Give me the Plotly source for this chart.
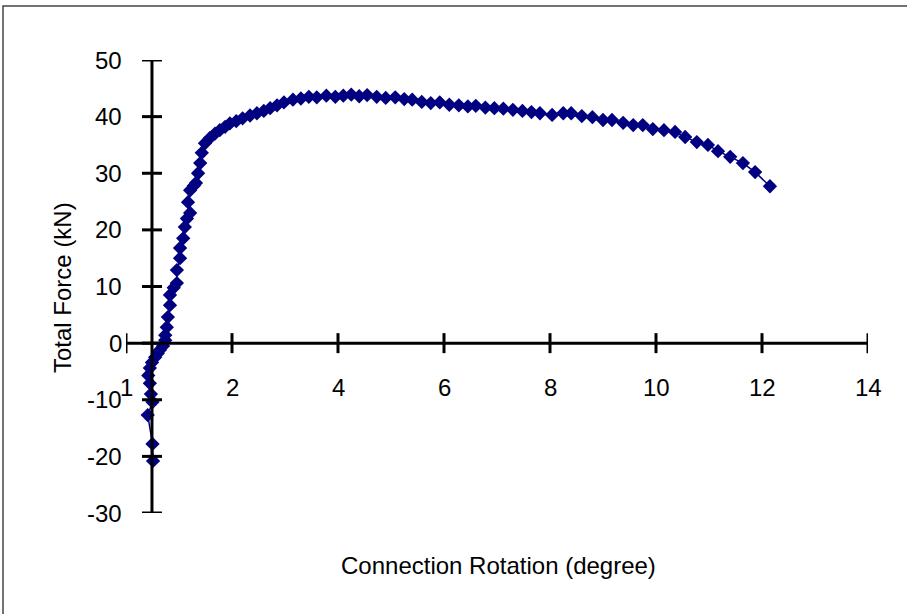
import plotly.graph_objects as go

# Data
rotation = [0.51, 0.50, 0.41, 0.50, 0.47, 0.45, 0.42, 0.45, 0.49, 0.55, 0.60, 0.64, 0.70, 0.74,
            0.74, 0.77, 0.79, 0.83, 0.83, 0.90, 0.96, 0.96, 1.02, 1.02, 1.08, 1.11, 1.15, 1.21,
            1.17, 1.21, 1.28, 1.32, 1.36, 1.40, 1.43, 1.49, 1.58, 1.68, 1.77, 1.87, 1.96, 2.08,
            2.20, 2.34, 2.47, 2.60, 2.72, 2.85, 2.98, 3.15, 3.30, 3.45, 3.60, 3.78, 3.95, 4.10,
            4.25, 4.40, 4.55, 4.73, 4.90, 5.08, 5.25, 5.40, 5.58, 5.75, 5.92, 6.10, 6.28, 6.45,
            6.60, 6.78, 6.95, 7.12, 7.30, 7.48, 7.65, 7.81, 8.04, 8.25, 8.40, 8.60, 8.80, 9.00,
            9.17, 9.38, 9.57, 9.75, 9.94, 10.15, 10.36, 10.55, 10.77, 10.98, 11.17, 11.40,
            11.64, 11.87, 12.15]
force = [-20.8, -17.8, -12.7, -10.4, -9.0, -7.1, -5.7, -4.4, -3.4, -2.5, -1.8, -1.2, -0.5, 0.5,
         1.4, 2.8, 4.6, 6.7, 8.5, 9.8, 10.6, 12.9, 15.0, 16.8, 18.5, 20.5, 22.0, 23.0,
         24.9, 27.0, 27.8, 28.3, 30.0, 31.8, 33.6, 35.3, 36.2, 37.0, 37.6, 38.2, 38.8, 39.2,
         39.7, 40.2, 40.6, 41.0, 41.5, 42.0, 42.5, 43.0, 43.2, 43.5, 43.4, 43.7, 43.5, 43.7,
         43.9, 43.6, 43.8, 43.5, 43.3, 43.4, 43.1, 43.0, 42.6, 42.4, 42.5, 42.1, 42.0, 41.8,
         41.9, 41.6, 41.5, 41.4, 41.2, 41.0, 40.8, 40.6, 40.3, 40.6, 40.6, 40.1, 39.9, 39.4,
         39.4, 38.9, 38.5, 38.5, 37.8, 37.6, 37.3, 36.4, 35.5, 35.0, 33.9, 32.9,
         31.8, 30.2, 27.7]

x_ticks = [0, 2, 4, 6, 8, 10, 12, 14]
x_tick_labels = ["1", "2", "4", "6", "8", "10", "12", "14"]
y_ticks = [-30, -20, -10, 0, 10, 20, 30, 40, 50]
y_tick_labels = ["-30", "-20", "-10", "0", "10", "20", "30", "40", "50"]
x_range = [0, 14]
y_range = [-30, 50]
y_axis_at = 0.49

FONT = "Liberation Sans, Arial, sans-serif"
FS = 24
NAVY = "#000080"

fig = go.Figure()
fig.add_trace(go.Scatter(
    x=rotation, y=force, mode="lines+markers",
    line=dict(color=NAVY, width=1.5),
    marker=dict(symbol="diamond", size=11, color=NAVY),
    showlegend=False, cliponaxis=False,
))

shapes = []
# axis lines
shapes.append(dict(type="line", xref="x", yref="y", x0=x_range[0], x1=x_range[1], y0=0, y1=0,
                   line=dict(color="black", width=3)))
shapes.append(dict(type="line", xref="x", yref="y", x0=y_axis_at, x1=y_axis_at,
                   y0=y_range[0], y1=y_range[1], line=dict(color="black", width=3)))
# ticks (cross)
for t in x_ticks:
    shapes.append(dict(type="line", xref="x", yref="y", x0=t, x1=t,
                       ysizemode="pixel", yanchor=0, y0=-10, y1=10,
                       line=dict(color="black", width=3)))
for t in y_ticks:
    shapes.append(dict(type="line", xref="x", yref="y", y0=t, y1=t,
                       xsizemode="pixel", xanchor=y_axis_at, x0=-10, x1=10,
                       line=dict(color="black", width=3)))
# outer frame
shapes.append(dict(type="rect", xref="paper", yref="paper",
                   x0=(3 - 126) / 742, x1=(912 - 126) / 742,
                   y0=(513 - 620) / 453, y1=(513 - 6) / 453,
                   line=dict(color="#444444", width=1.5), layer="below"))

annotations = []
for t, lab in zip(x_ticks, x_tick_labels):
    annotations.append(dict(x=t, y=0, xref="x", yref="y", text=lab, showarrow=False,
                            xanchor="center", yanchor="middle", yshift=-44,
                            font=dict(family=FONT, size=FS, color="black")))
for t, lab in zip(y_ticks, y_tick_labels):
    annotations.append(dict(x=0, y=t, xref="paper", yref="y", text=lab, showarrow=False,
                            xanchor="right", yanchor="middle", xshift=-2,
                            font=dict(family=FONT, size=FS, color="black")))
annotations.append(dict(x=(62 - 126) / 742, y=(513 - 288) / 453, xref="paper", yref="paper",
                        text="Total Force (kN)", textangle=-90, showarrow=False,
                        xanchor="center", yanchor="middle",
                        font=dict(family=FONT, size=FS, color="black")))
annotations.append(dict(x=(498 - 126) / 742, y=(513 - 565) / 453, xref="paper", yref="paper",
                        text="Connection Rotation (degree)", showarrow=False,
                        xanchor="center", yanchor="middle",
                        font=dict(family=FONT, size=FS, color="black")))

fig.update_layout(
    width=907, height=614,
    margin=dict(l=126, r=39, t=60, b=101),
    paper_bgcolor="white", plot_bgcolor="white",
    xaxis=dict(range=x_range, visible=False, fixedrange=True),
    yaxis=dict(range=y_range, visible=False, fixedrange=True),
    shapes=shapes, annotations=annotations,
)

fig.write_html("out.html")
